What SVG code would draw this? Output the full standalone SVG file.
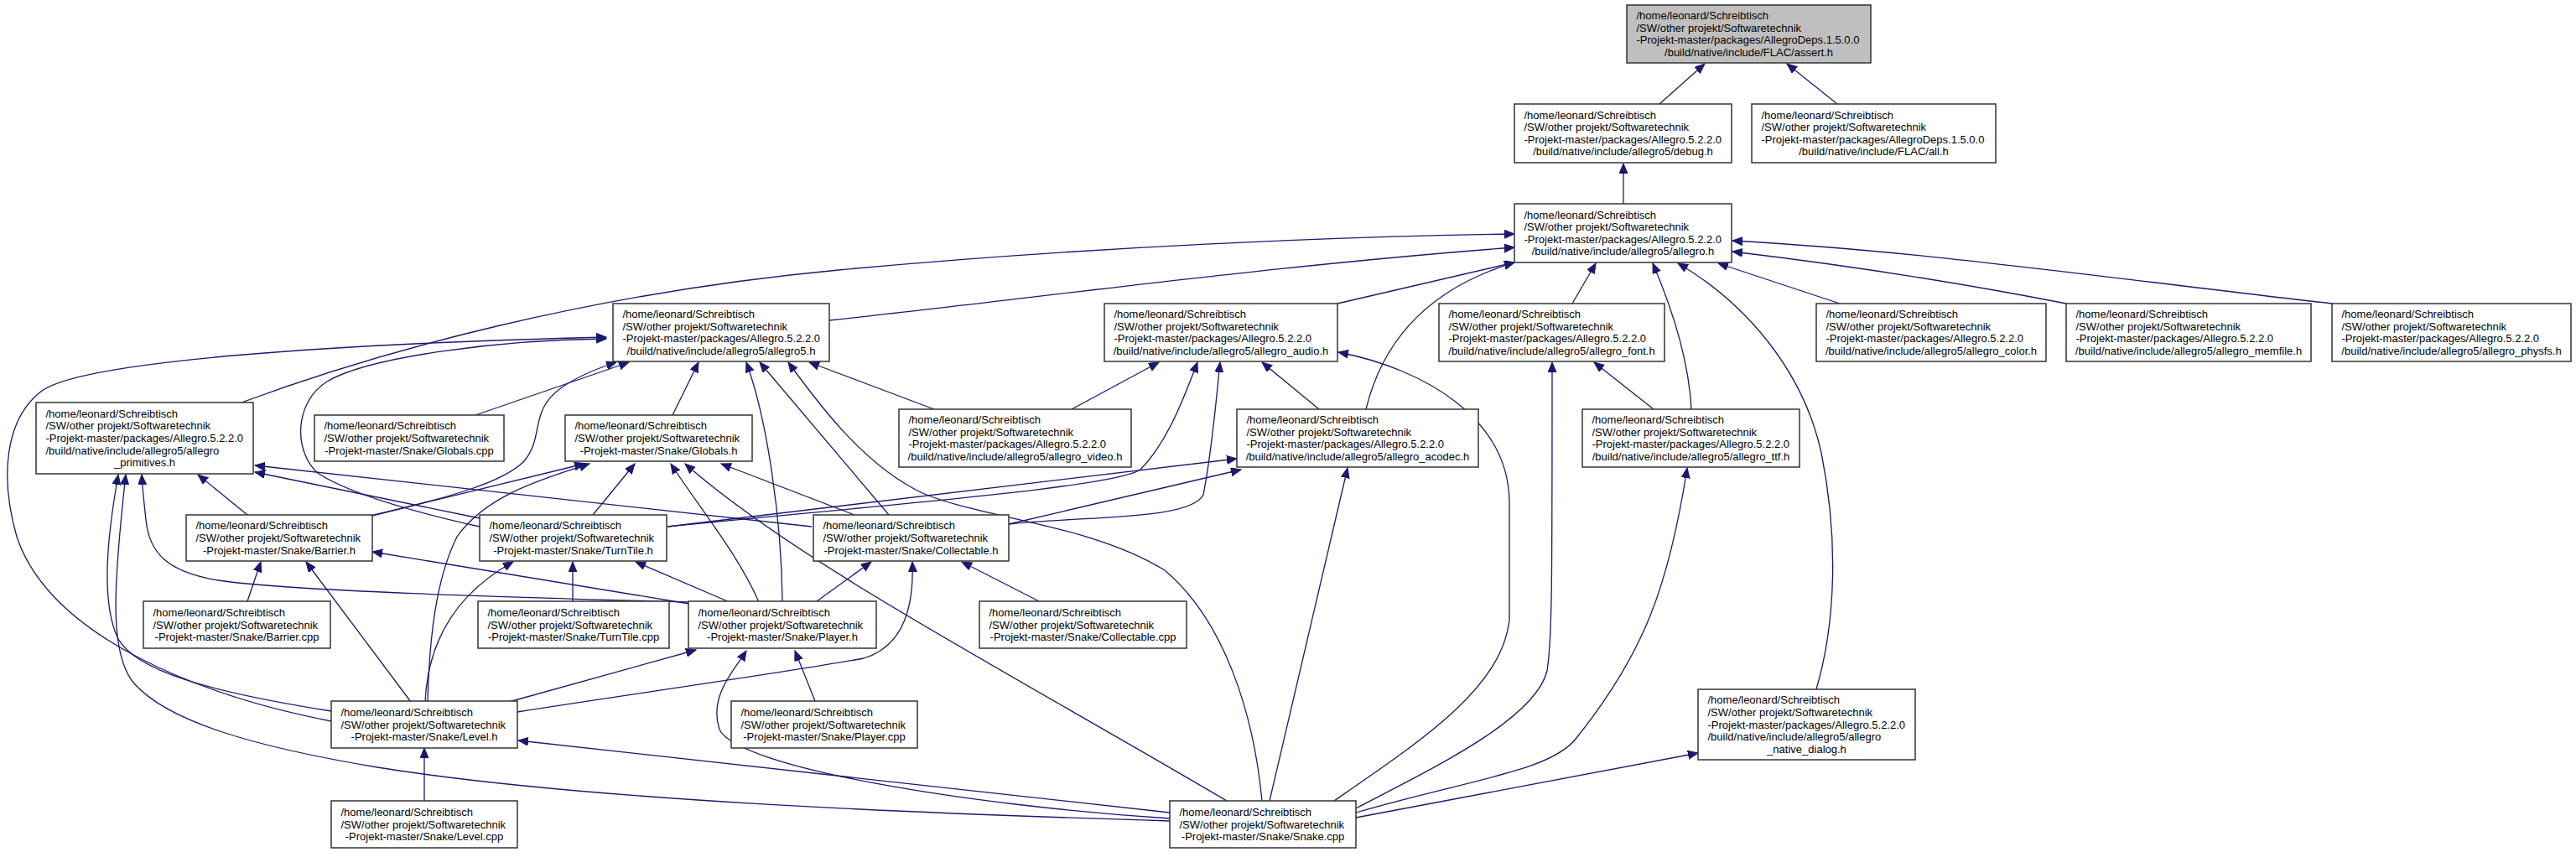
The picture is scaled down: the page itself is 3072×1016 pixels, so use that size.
<svg xmlns="http://www.w3.org/2000/svg" width="3072" height="1016" viewBox="0 0 3072 1016">
<defs>
<style>
.n rect{fill:#fff;stroke:#333;stroke-width:1.5}
.n.root rect{fill:#bfbfbf}
.n text{font-family:"Liberation Sans",Arial,Helvetica,sans-serif;font-size:13px;fill:#000}
.n text.c{text-anchor:middle}
.e path{fill:none;stroke:#191970;stroke-width:1.3;marker-end:url(#ah)}
</style>
<marker id="ah" markerUnits="userSpaceOnUse" markerWidth="14" markerHeight="12" refX="12" refY="5" orient="auto">
<path d="M0,0 L12,5 L0,10 Z" fill="#191970" stroke="#191970" stroke-width="1"/>
</marker>
</defs>
<rect x="0" y="0" width="3072" height="1016" fill="#fff"/>
<g id="edges" class="e">
<path d="M1979,124 L2033,76"/>
<path d="M2191,124 L2131,76"/>
<path d="M1936,243 L1936,195"/>
<path d="M989,382 C1200,360 1500,318 1806,295"/>
<path d="M288,480 C450,420 700,350 1000,322 C1300,294 1600,282 1806,279"/>
<path d="M1595,362 L1806,313"/>
<path d="M1629,488 C1648,410 1700,345 1806,313"/>
<path d="M1875,362 L1903,314"/>
<path d="M2017,488 C2014,430 1995,370 1971,314"/>
<path d="M2166,822 C2190,740 2192,640 2172,540 C2150,440 2080,360 2001,314"/>
<path d="M2194,362 L2049,314"/>
<path d="M2464,362 C2300,330 2150,310 2066,300"/>
<path d="M2781,362 C2500,330 2300,300 2066,287"/>
<path d="M567,495 L750,432"/>
<path d="M802,495 L833,432"/>
<path d="M1114,488 L965,432"/>
<path d="M443,615 C540,592 600,575 625,550 C650,520 630,490 670,462 C690,448 710,440 735,432"/>
<path d="M572,628 C500,612 420,590 380,565 C350,540 350,480 390,455 C440,425 600,405 723,404"/>
<path d="M1060,614 L906,432"/>
<path d="M933,717 C932,620 915,500 890,432"/>
<path d="M1505,955 C1495,850 1460,740 1389,680 C1300,625 1170,618 1100,588 C1030,555 975,480 940,432"/>
<path d="M395,860 C240,830 60,760 20,640 C0,570 5,500 50,466 C100,430 400,410 723,402"/>
<path d="M295,614 L236,566"/>
<path d="M395,848 C250,825 160,800 140,760 C120,715 128,640 141,566"/>
<path d="M1395,979 C1100,970 700,955 450,915 C300,890 200,860 160,815 C130,780 135,700 150,566"/>
<path d="M822,718 C600,712 350,705 260,692 C200,682 178,660 174,620 C172,600 170,585 169,566"/>
<path d="M572,618 L304,563"/>
<path d="M968,628 L304,555"/>
<path d="M443,615 L697,553"/>
<path d="M707,614 L757,553"/>
<path d="M905,718 C880,660 830,600 800,553"/>
<path d="M1463,955 C1200,800 950,670 817,553"/>
<path d="M1019,614 L860,553"/>
<path d="M510,837 C512,760 520,690 545,640 C580,590 650,570 703,553"/>
<path d="M507,837 C510,770 540,710 612,670"/>
<path d="M490,837 L365,670"/>
<path d="M607,837 L830,775"/>
<path d="M617,849 C750,828 950,800 1030,785 C1080,770 1090,720 1088,670"/>
<path d="M506,955 L506,892"/>
<path d="M1395,969 L618,883"/>
<path d="M1395,976 C1150,960 880,915 858,870 C845,830 875,800 890,776"/>
<path d="M822,720 L444,658"/>
<path d="M870,718 L758,670"/>
<path d="M974,717 L1039,670"/>
<path d="M972,836 L948,776"/>
<path d="M683,717 L683,670"/>
<path d="M295,717 L311,670"/>
<path d="M1239,717 L1147,670"/>
<path d="M796,628 L1475,547"/>
<path d="M796,628 C1100,598 1330,580 1360,560 C1390,530 1410,480 1428,432"/>
<path d="M1203,625 L1480,560"/>
<path d="M1203,625 C1300,615 1420,620 1435,590 C1445,540 1450,480 1455,432"/>
<path d="M1278,488 L1382,432"/>
<path d="M1573,488 L1505,432"/>
<path d="M1514,955 L1607,558"/>
<path d="M1591,955 C1700,880 1790,820 1800,740 L1800,600 C1800,500 1700,440 1596,420"/>
<path d="M1617,964 C1700,920 1830,860 1845,800 C1851,760 1851,700 1851,432"/>
<path d="M1617,969 C1750,930 1850,920 1880,880 C1960,780 1990,700 2012,558"/>
<path d="M1617,975 L2025,898"/>
<path d="M1972,488 L1901,432"/>
</g>
<g id="node_assert" class="n root"><rect x="1940" y="6" width="291" height="69"/>
<text x="1951.5" y="23.1">/home/leonard/Schreibtisch</text><text x="1951.5" y="37.7">/SW/other projekt/Softwaretechnik</text><text x="1951.5" y="52.3">-Projekt-master/packages/AllegroDeps.1.5.0.0</text><text class="c" x="2085.5" y="66.9">/build/native/include/FLAC/assert.h</text></g>
<g id="node_debug" class="n"><rect x="1806" y="124" width="259" height="70"/>
<text x="1817.5" y="141.6">/home/leonard/Schreibtisch</text><text x="1817.5" y="156.2">/SW/other projekt/Softwaretechnik</text><text x="1817.5" y="170.8">-Projekt-master/packages/Allegro.5.2.2.0</text><text class="c" x="1935.5" y="185.4">/build/native/include/allegro5/debug.h</text></g>
<g id="node_all" class="n"><rect x="2089" y="124" width="291" height="70"/>
<text x="2100.5" y="141.6">/home/leonard/Schreibtisch</text><text x="2100.5" y="156.2">/SW/other projekt/Softwaretechnik</text><text x="2100.5" y="170.8">-Projekt-master/packages/AllegroDeps.1.5.0.0</text><text class="c" x="2234.5" y="185.4">/build/native/include/FLAC/all.h</text></g>
<g id="node_allegro" class="n"><rect x="1806" y="243" width="259" height="70"/>
<text x="1817.5" y="260.6">/home/leonard/Schreibtisch</text><text x="1817.5" y="275.2">/SW/other projekt/Softwaretechnik</text><text x="1817.5" y="289.8">-Projekt-master/packages/Allegro.5.2.2.0</text><text class="c" x="1935.5" y="304.4">/build/native/include/allegro5/allegro.h</text></g>
<g id="node_allegro5" class="n"><rect x="731" y="362" width="258" height="69"/>
<text x="742.5" y="379.1">/home/leonard/Schreibtisch</text><text x="742.5" y="393.7">/SW/other projekt/Softwaretechnik</text><text x="742.5" y="408.3">-Projekt-master/packages/Allegro.5.2.2.0</text><text class="c" x="860" y="422.9">/build/native/include/allegro5/allegro5.h</text></g>
<g id="node_audio" class="n"><rect x="1317" y="362" width="278" height="69"/>
<text x="1328.5" y="379.1">/home/leonard/Schreibtisch</text><text x="1328.5" y="393.7">/SW/other projekt/Softwaretechnik</text><text x="1328.5" y="408.3">-Projekt-master/packages/Allegro.5.2.2.0</text><text class="c" x="1456" y="422.9">/build/native/include/allegro5/allegro_audio.h</text></g>
<g id="node_font" class="n"><rect x="1716" y="362" width="269" height="69"/>
<text x="1727.5" y="379.1">/home/leonard/Schreibtisch</text><text x="1727.5" y="393.7">/SW/other projekt/Softwaretechnik</text><text x="1727.5" y="408.3">-Projekt-master/packages/Allegro.5.2.2.0</text><text class="c" x="1850.5" y="422.9">/build/native/include/allegro5/allegro_font.h</text></g>
<g id="node_color" class="n"><rect x="2166" y="362" width="274" height="69"/>
<text x="2177.5" y="379.1">/home/leonard/Schreibtisch</text><text x="2177.5" y="393.7">/SW/other projekt/Softwaretechnik</text><text x="2177.5" y="408.3">-Projekt-master/packages/Allegro.5.2.2.0</text><text class="c" x="2303" y="422.9">/build/native/include/allegro5/allegro_color.h</text></g>
<g id="node_memfile" class="n"><rect x="2464" y="362" width="292" height="69"/>
<text x="2475.5" y="379.1">/home/leonard/Schreibtisch</text><text x="2475.5" y="393.7">/SW/other projekt/Softwaretechnik</text><text x="2475.5" y="408.3">-Projekt-master/packages/Allegro.5.2.2.0</text><text class="c" x="2610" y="422.9">/build/native/include/allegro5/allegro_memfile.h</text></g>
<g id="node_physfs" class="n"><rect x="2781" y="362" width="285" height="69"/>
<text x="2792.5" y="379.1">/home/leonard/Schreibtisch</text><text x="2792.5" y="393.7">/SW/other projekt/Softwaretechnik</text><text x="2792.5" y="408.3">-Projekt-master/packages/Allegro.5.2.2.0</text><text class="c" x="2923.5" y="422.9">/build/native/include/allegro5/allegro_physfs.h</text></g>
<g id="node_primitives" class="n"><rect x="43" y="480" width="259" height="85"/>
<text x="54.5" y="497.8">/home/leonard/Schreibtisch</text><text x="54.5" y="512.4">/SW/other projekt/Softwaretechnik</text><text x="54.5" y="527">-Projekt-master/packages/Allegro.5.2.2.0</text><text x="54.5" y="541.6">/build/native/include/allegro5/allegro</text><text class="c" x="172.5" y="556.2">_primitives.h</text></g>
<g id="node_globals_cpp" class="n"><rect x="375" y="495" width="226" height="55"/>
<text x="386.5" y="512.4">/home/leonard/Schreibtisch</text><text x="386.5" y="527">/SW/other projekt/Softwaretechnik</text><text class="c" x="488" y="541.6">-Projekt-master/Snake/Globals.cpp</text></g>
<g id="node_globals_h" class="n"><rect x="674" y="495" width="223" height="55"/>
<text x="685.5" y="512.4">/home/leonard/Schreibtisch</text><text x="685.5" y="527">/SW/other projekt/Softwaretechnik</text><text class="c" x="785.5" y="541.6">-Projekt-master/Snake/Globals.h</text></g>
<g id="node_video" class="n"><rect x="1072" y="488" width="277" height="69"/>
<text x="1083.5" y="505.1">/home/leonard/Schreibtisch</text><text x="1083.5" y="519.7">/SW/other projekt/Softwaretechnik</text><text x="1083.5" y="534.3">-Projekt-master/packages/Allegro.5.2.2.0</text><text class="c" x="1210.5" y="548.9">/build/native/include/allegro5/allegro_video.h</text></g>
<g id="node_acodec" class="n"><rect x="1475" y="488" width="288" height="69"/>
<text x="1486.5" y="505.1">/home/leonard/Schreibtisch</text><text x="1486.5" y="519.7">/SW/other projekt/Softwaretechnik</text><text x="1486.5" y="534.3">-Projekt-master/packages/Allegro.5.2.2.0</text><text class="c" x="1619" y="548.9">/build/native/include/allegro5/allegro_acodec.h</text></g>
<g id="node_ttf" class="n"><rect x="1887" y="488" width="259" height="69"/>
<text x="1898.5" y="505.1">/home/leonard/Schreibtisch</text><text x="1898.5" y="519.7">/SW/other projekt/Softwaretechnik</text><text x="1898.5" y="534.3">-Projekt-master/packages/Allegro.5.2.2.0</text><text class="c" x="2016.5" y="548.9">/build/native/include/allegro5/allegro_ttf.h</text></g>
<g id="node_barrier_h" class="n"><rect x="222" y="614" width="222" height="55"/>
<text x="233.5" y="631.4">/home/leonard/Schreibtisch</text><text x="233.5" y="646">/SW/other projekt/Softwaretechnik</text><text class="c" x="333" y="660.6">-Projekt-master/Snake/Barrier.h</text></g>
<g id="node_turntile_h" class="n"><rect x="572" y="614" width="223" height="55"/>
<text x="583.5" y="631.4">/home/leonard/Schreibtisch</text><text x="583.5" y="646">/SW/other projekt/Softwaretechnik</text><text class="c" x="683.5" y="660.6">-Projekt-master/Snake/TurnTile.h</text></g>
<g id="node_collectable_h" class="n"><rect x="970" y="614" width="233" height="55"/>
<text x="981.5" y="631.4">/home/leonard/Schreibtisch</text><text x="981.5" y="646">/SW/other projekt/Softwaretechnik</text><text class="c" x="1086.5" y="660.6">-Projekt-master/Snake/Collectable.h</text></g>
<g id="node_barrier_cpp" class="n"><rect x="171" y="717" width="223" height="56"/>
<text x="182.5" y="734.9">/home/leonard/Schreibtisch</text><text x="182.5" y="749.5">/SW/other projekt/Softwaretechnik</text><text class="c" x="282.5" y="764.1">-Projekt-master/Snake/Barrier.cpp</text></g>
<g id="node_turntile_cpp" class="n"><rect x="570" y="717" width="228" height="56"/>
<text x="581.5" y="734.9">/home/leonard/Schreibtisch</text><text x="581.5" y="749.5">/SW/other projekt/Softwaretechnik</text><text class="c" x="684" y="764.1">-Projekt-master/Snake/TurnTile.cpp</text></g>
<g id="node_player_h" class="n"><rect x="821" y="717" width="224" height="56"/>
<text x="832.5" y="734.9">/home/leonard/Schreibtisch</text><text x="832.5" y="749.5">/SW/other projekt/Softwaretechnik</text><text class="c" x="933" y="764.1">-Projekt-master/Snake/Player.h</text></g>
<g id="node_collectable_cpp" class="n"><rect x="1168" y="717" width="247" height="56"/>
<text x="1179.5" y="734.9">/home/leonard/Schreibtisch</text><text x="1179.5" y="749.5">/SW/other projekt/Softwaretechnik</text><text class="c" x="1291.5" y="764.1">-Projekt-master/Snake/Collectable.cpp</text></g>
<g id="node_level_h" class="n"><rect x="395" y="836" width="222" height="56"/>
<text x="406.5" y="853.9">/home/leonard/Schreibtisch</text><text x="406.5" y="868.5">/SW/other projekt/Softwaretechnik</text><text class="c" x="506" y="883.1">-Projekt-master/Snake/Level.h</text></g>
<g id="node_player_cpp" class="n"><rect x="872" y="836" width="222" height="56"/>
<text x="883.5" y="853.9">/home/leonard/Schreibtisch</text><text x="883.5" y="868.5">/SW/other projekt/Softwaretechnik</text><text class="c" x="983" y="883.1">-Projekt-master/Snake/Player.cpp</text></g>
<g id="node_native_dialog" class="n"><rect x="2025" y="822" width="259" height="84"/>
<text x="2036.5" y="839.3">/home/leonard/Schreibtisch</text><text x="2036.5" y="853.9">/SW/other projekt/Softwaretechnik</text><text x="2036.5" y="868.5">-Projekt-master/packages/Allegro.5.2.2.0</text><text x="2036.5" y="883.1">/build/native/include/allegro5/allegro</text><text class="c" x="2154.5" y="897.7">_native_dialog.h</text></g>
<g id="node_level_cpp" class="n"><rect x="395" y="955" width="222" height="56"/>
<text x="406.5" y="972.9">/home/leonard/Schreibtisch</text><text x="406.5" y="987.5">/SW/other projekt/Softwaretechnik</text><text class="c" x="506" y="1002.1">-Projekt-master/Snake/Level.cpp</text></g>
<g id="node_snake_cpp" class="n"><rect x="1395" y="955" width="222" height="56"/>
<text x="1406.5" y="972.9">/home/leonard/Schreibtisch</text><text x="1406.5" y="987.5">/SW/other projekt/Softwaretechnik</text><text class="c" x="1506" y="1002.1">-Projekt-master/Snake/Snake.cpp</text></g>
</svg>
